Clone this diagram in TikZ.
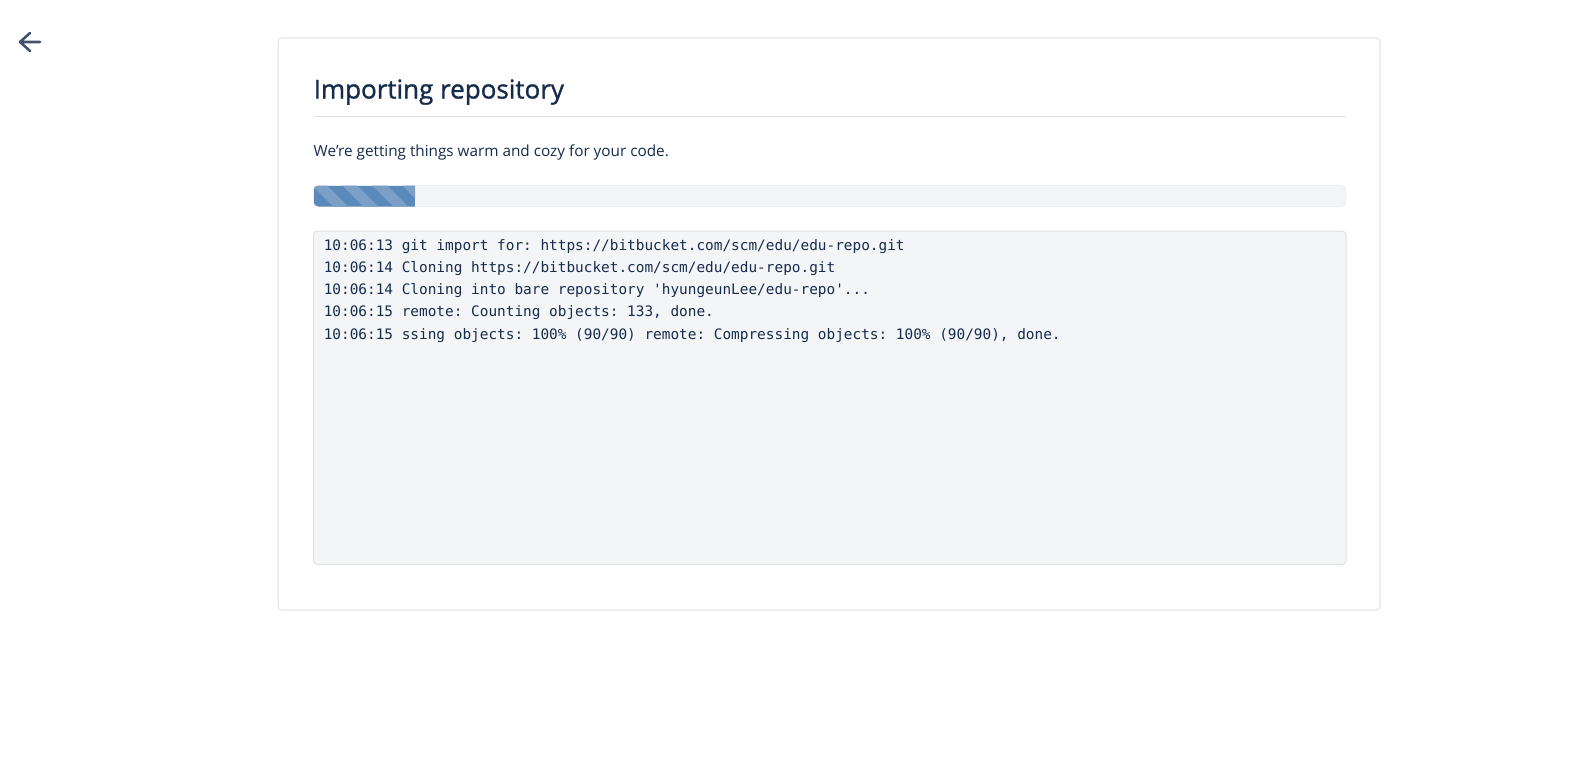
\documentclass[tikz,border=0pt]{standalone}
\usepackage{fontspec}
\setmainfont{Open Sans}
\setmonofont{DejaVu Sans Mono}
\newfontfamily\headfont[FakeBold=1.2]{Open Sans}
\definecolor{atlnavy}{HTML}{172B4D}
\definecolor{atlslate}{HTML}{42526E}
\definecolor{atlborder}{HTML}{DFE1E6}
\definecolor{atlgrey}{HTML}{F4F5F7}
\definecolor{atlbar}{RGB}{91,138,186}
\definecolor{atlstripe}{RGB}{122,160,200}

\begin{document}
\begin{tikzpicture}[
  x=1pt, y=-1pt,
  heading/.style={anchor=base west, inner sep=0pt, text=atlnavy, font=\headfont\fontsize{26}{31}\selectfont},
  bodytext/.style={anchor=base west, inner sep=0pt, text=atlnavy, font=\fontsize{15.3}{18}\selectfont},
  logline/.style={anchor=base west, inner sep=0pt, text=atlnavy, font=\ttfamily\fontsize{14.4}{17}\selectfont},
  panel/.style={draw=atlborder, line width=1pt, rounded corners=4pt}
]
\useasboundingbox[fill=white] (0,0) rectangle (1581,760);

% Back arrow
\draw[atlslate, line width=2.6pt, line cap=round, line join=round]
  (30,33) -- (20,42) -- (30,51) (20,42) -- (40,42);

% Card
\draw[panel] (278,38) rectangle (1380,610);

% Header
\node[heading] (title) at (313.5,98.5) {Importing repository};
\coordinate (ruleL) at (313.5,116);
\coordinate (ruleR) at (1346,116);
\draw[atlborder, line width=1pt] (ruleL) -- (ruleR);
\node[bodytext] (intro) at (313.5,156.5) {We're getting things warm and cozy for your code.};

% Progress bar
\fill[atlgrey, rounded corners=5pt] (313.5,185.5) rectangle (1346,206.5);
\draw[atlborder!60, line width=0.8pt, rounded corners=5pt] (313.5,185.5) rectangle (1346,206.5);
\begin{scope}
  \clip[rounded corners=5pt] (313.5,185.5) rectangle (1346,206.5);
  \clip (313.5,185.5) rectangle (415,206.5);
  \fill[atlbar] (313.5,185.5) rectangle (415,206.5);
  \foreach \a in {252,282,...,402}
    \fill[atlstripe] (\a,185.5) -- (\a+15,185.5) -- (\a+36,206.5) -- (\a+21,206.5) -- cycle;
\end{scope}

% Log output
\draw[panel, fill=atlgrey, rounded corners=4pt] (313.5,231) rectangle (1346,564.5);
\node[logline] (log1) at (323.6,250.2) {10:06:13 git import for: https://bitbucket.com/scm/edu/edu-repo.git};
\node[logline] (log2) at (323.6,272.4) {10:06:14 Cloning https://bitbucket.com/scm/edu/edu-repo.git};
\node[logline] (log3) at (323.6,294.6) {10:06:14 Cloning into bare repository 'hyungeunLee/edu-repo'...};
\node[logline] (log4) at (323.6,316.8) {10:06:15 remote: Counting objects: 133, done.};
\node[logline] (log5) at (323.6,339.0) {10:06:15 ssing objects: 100\% (90/90) remote: Compressing objects: 100\% (90/90), done.};

\end{tikzpicture}
\end{document}
